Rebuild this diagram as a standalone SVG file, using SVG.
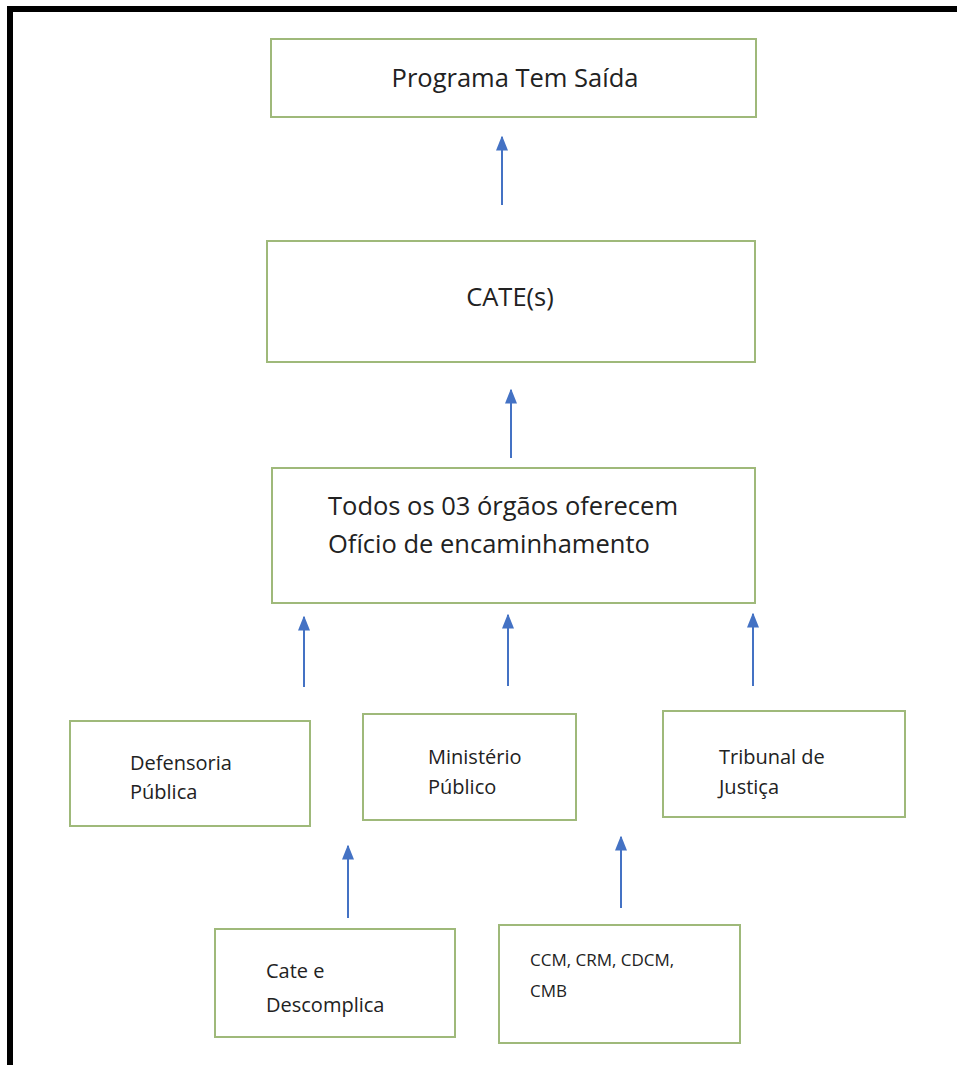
<svg xmlns="http://www.w3.org/2000/svg" width="957" height="1065" viewBox="0 0 957 1065">
<defs>
<marker id="ah" viewBox="0 0 10 10" refX="9" refY="5" markerWidth="15" markerHeight="12" markerUnits="userSpaceOnUse" orient="auto" preserveAspectRatio="none">
<path d="M0,0 L10,5 L0,10 Z" fill="#4472c4"/>
</marker>
<style>
.box{fill:#ffffff;stroke:#9fb97a;stroke-width:2}
.t{font-family:"Open Sans","Noto Sans",sans-serif;fill:#222222}
.big{font-size:25.5px}
.mid{font-size:20px}
.sm{font-size:17px}
.ar{stroke:#4472c4;stroke-width:2;fill:none}
</style>
</defs>
<rect x="0" y="0" width="957" height="1065" fill="#ffffff"/>
<path d="M10,1065 V9 H957" fill="none" stroke="#000000" stroke-width="6"/>
<g id="n-programa">
<rect class="box" x="271" y="39" width="485" height="78"/>
<text class="t big" x="515" y="87" text-anchor="middle">Programa Tem Saída</text>
</g>
<g id="n-cate">
<rect class="box" x="267" y="241" width="488" height="121"/>
<text class="t big" x="510" y="306" text-anchor="middle">CATE(s)</text>
</g>
<g id="n-todos">
<rect class="box" x="272" y="468" width="483" height="135"/>
<text class="t big" x="328" y="515">Todos os 03 órgãos oferecem</text>
<text class="t big" x="328" y="553">Ofício de encaminhamento</text>
</g>
<g id="n-defensoria">
<rect class="box" x="70" y="721" width="240" height="105"/>
<text class="t mid" x="130" y="770">Defensoria</text>
<text class="t mid" x="130" y="799">Pública</text>
</g>
<g id="n-ministerio">
<rect class="box" x="363" y="714" width="213" height="106"/>
<text class="t mid" x="428" y="764">Ministério</text>
<text class="t mid" x="428" y="794">Público</text>
</g>
<g id="n-tribunal">
<rect class="box" x="663" y="711" width="242" height="106"/>
<text class="t mid" x="719" y="764">Tribunal de</text>
<text class="t mid" x="719" y="794">Justiça</text>
</g>
<g id="n-catedesc">
<rect class="box" x="215" y="929" width="240" height="108"/>
<text class="t mid" x="266" y="978">Cate e</text>
<text class="t mid" x="266" y="1012">Descomplica</text>
</g>
<g id="n-ccm">
<rect class="box" x="499" y="925" width="241" height="118"/>
<text class="t sm" x="530" y="966">CCM, CRM, CDCM,</text>
<text class="t sm" x="530" y="997">CMB</text>
</g>
<g id="connectors">
<line class="ar" x1="502" y1="205" x2="502" y2="137" marker-end="url(#ah)"/>
<line class="ar" x1="511" y1="458" x2="511" y2="390" marker-end="url(#ah)"/>
<line class="ar" x1="304" y1="687" x2="304" y2="617" marker-end="url(#ah)"/>
<line class="ar" x1="508" y1="686" x2="508" y2="615" marker-end="url(#ah)"/>
<line class="ar" x1="753" y1="686" x2="753" y2="614" marker-end="url(#ah)"/>
<line class="ar" x1="348" y1="918" x2="348" y2="846" marker-end="url(#ah)"/>
<line class="ar" x1="621" y1="908" x2="621" y2="837" marker-end="url(#ah)"/>
</g>
</svg>
